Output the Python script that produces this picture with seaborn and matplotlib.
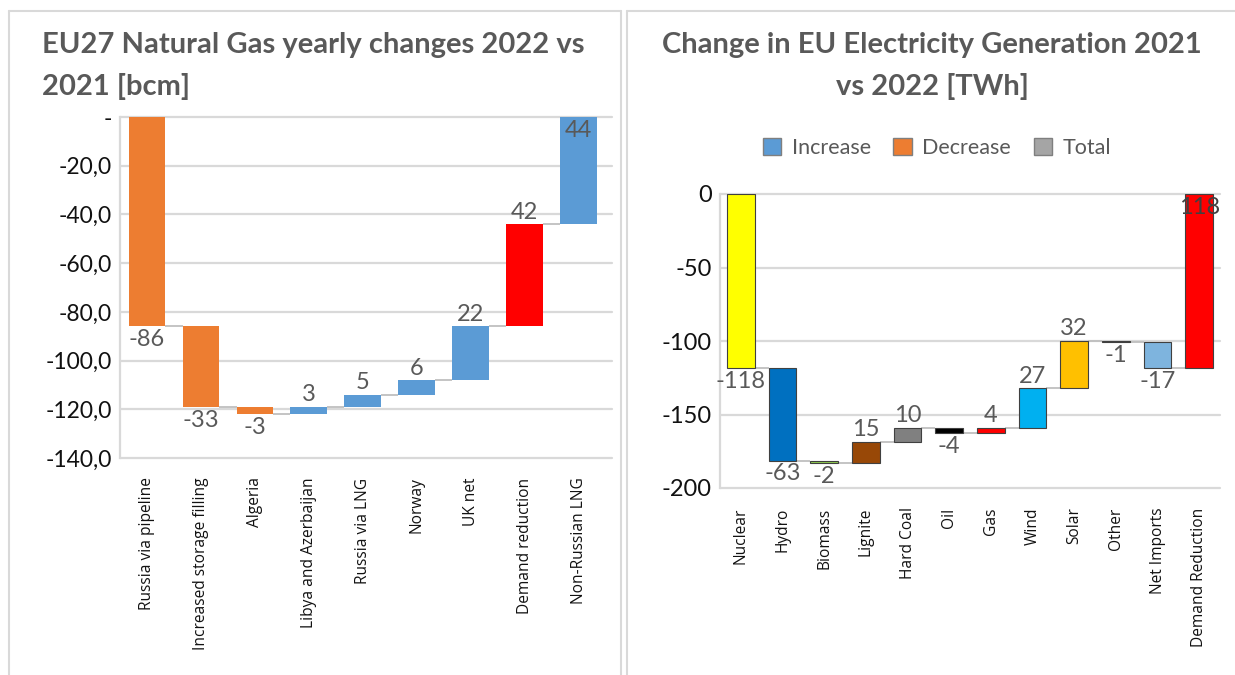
import numpy as np
import pandas as pd
import matplotlib
matplotlib.use("Agg")
import matplotlib.pyplot as plt
from matplotlib.patches import Patch
from matplotlib.lines import Line2D
from matplotlib.ticker import FuncFormatter
import seaborn as sns

# --- data -------------------------------------------------------------------
gas_categories = ["Russia via pipeline", "Increased storage filling", "Algeria",
                  "Libya and Azerbaijan", "Russia via LNG", "Norway", "UK net",
                  "Demand reduction", "Non-Russian LNG"]
gas_changes = [-86, -33, -3, 3, 5, 6, 22, 42, 44]
gas_ticks = [0, -20, -40, -60, -80, -100, -120, -140]

power_categories = ["Nuclear", "Hydro", "Biomass", "Lignite", "Hard Coal", "Oil",
                    "Gas", "Wind", "Solar", "Other", "Net Imports",
                    "Demand Reduction"]
power_changes = [-118.2, -63.1, -1.8, 14.6, 9.6, -3.8, 3.8, 26.6, 32.4, -0.9,
                 -17.4, 118.2]
power_ticks = [0, -50, -100, -150, -200]

legend_labels = ["Increase", "Decrease", "Total"]

gas_title = "EU27 Natural Gas yearly changes 2022 vs\n2021 [bcm]"
power_title = "Change in EU Electricity Generation 2021\nvs 2022 [TWh]"

# --- colours ----------------------------------------------------------------
gas_palette = ["#ED7D31", "#ED7D31", "#ED7D31", "#5B9BD5", "#5B9BD5",
               "#5B9BD5", "#5B9BD5", "#FF0000", "#5B9BD5"]
power_palette = ["#FFFF00", "#0070C0", "#92D050", "#984807", "#808080",
                 "#000000", "#FF0000", "#00B0F0", "#FFC000", "#7F6000",
                 "#7EB4DE", "#FF0000"]
legend_palette = ["#5B9BD5", "#ED7D31", "#A5A5A5"]

GRID = "#D9D9D9"
LABEL = "#595959"
TITLE_FONT = ["Lato", "DejaVu Sans"]
CAT_FONT = ["Open Sans", "DejaVu Sans"]

sns.set_theme(style="white")
plt.rcParams["font.family"] = ["Lato", "DejaVu Sans"]

W, H = 1235, 675
fig = plt.figure(figsize=(W / 100, H / 100), dpi=100)


def px_axes(x0, y0, x1, y1):
    return fig.add_axes([x0 / W, 1 - y1 / H, (x1 - x0) / W, (y1 - y0) / H])


def waterfall(ax, cats, changes, palette, width, edge, lw, ymin, ticks,
              fmt, xmax, label_size, label_color, tick_size):
    changes = np.asarray(changes, dtype=float)
    ends = np.cumsum(changes)
    starts = ends - changes
    lo = np.minimum(starts, ends)
    hi = np.maximum(starts, ends)
    df = pd.DataFrame({"cat": cats, "lo": lo})
    sns.barplot(data=df, x="cat", y="lo", hue="cat", palette=palette,
                width=width, legend=False, errorbar=None, ax=ax,
                edgecolor=edge, linewidth=lw, saturation=1)
    # turn the bars into floating steps
    for p in ax.patches:
        i = int(round(p.get_x() + p.get_width() / 2))
        p.set_y(lo[i])
        p.set_height(hi[i] - lo[i])
        p.set_zorder(3)
    # connectors between consecutive steps
    for i in range(len(cats) - 1):
        ax.plot([i + width / 2, i + 1 - width / 2], [ends[i], ends[i]],
                color="#BFBFBF", lw=1.3, zorder=2, solid_capstyle="butt")
    # value labels
    for i, c in enumerate(changes):
        txt = f"{c:.0f}"
        if c > 0 and hi[i] >= -1e-9:
            ax.annotate(txt, (i, hi[i]), xytext=(0, -2), textcoords="offset points",
                        ha="center", va="top", fontsize=label_size,
                        color=label_color, zorder=5)
        elif c > 0:
            ax.annotate(txt, (i, hi[i]), xytext=(0, 1), textcoords="offset points",
                        ha="center", va="bottom", fontsize=label_size,
                        color=LABEL, zorder=5)
        else:
            ax.annotate(txt, (i, lo[i]), xytext=(0, -2), textcoords="offset points",
                        ha="center", va="top", fontsize=label_size,
                        color=LABEL, zorder=5)
    ax.set_xlim(-0.5, xmax)
    ax.set_ylim(ymin, 0)
    ax.set_yticks(ticks)
    ax.yaxis.set_major_formatter(FuncFormatter(fmt))
    ax.set_xticks(range(len(cats)), labels=cats, fontfamily=CAT_FONT,
                  fontsize=11.2, rotation=90, va="top", color="#111111")
    ax.set_xlabel("")
    ax.set_ylabel("")
    for y in ticks:
        ax.axhline(y, color=GRID, lw=1.6, zorder=1, clip_on=False)
    for s in ["top", "right", "bottom"]:
        ax.spines[s].set_visible(False)
    ax.spines["left"].set_color(GRID)
    ax.spines["left"].set_linewidth(1.6)
    ax.tick_params(axis="y", length=0, labelsize=tick_size, labelcolor="#111111",
                   pad=6)
    ax.tick_params(axis="x", length=0, pad=14)
    ax.set_facecolor("none")


# --- left: natural gas ------------------------------------------------------
ax1 = px_axes(120, 117, 612, 458)
waterfall(ax1, gas_categories, gas_changes, gas_palette, 0.68, "none", 0,
          -140, gas_ticks,
          lambda v, _: "-" if v == 0 else f"{v:.1f}".replace(".", ","),
          8.62, 17, LABEL, 16.5)

# --- right: electricity generation ------------------------------------------
ax2 = px_axes(720, 194, 1220, 488)
waterfall(ax2, power_categories, power_changes, power_palette, 0.67, "#404040",
          0.8, -200, power_ticks, lambda v, _: f"{v:.0f}", 11.5, 17, "#404040",
          17)

handles = [Patch(facecolor=c, edgecolor="#7F7F7F", lw=1.0) for c in legend_palette]
fig.legend(handles, legend_labels, loc="center", bbox_to_anchor=(937 / W, 1 - 148 / H),
           ncol=3, frameon=False, fontsize=15.5, handlelength=0.85,
           handleheight=0.85, handletextpad=0.5, columnspacing=1.05,
           labelcolor=LABEL)

# --- titles -----------------------------------------------------------------
fig.text(42 / W, 1 - 32 / H, gas_title, ha="left", va="top", fontsize=21,
         fontweight="bold", color=LABEL, family=TITLE_FONT, linespacing=1.7)
fig.text(932 / W, 1 - 32 / H, power_title, ha="center", va="top", fontsize=21,
         fontweight="bold", color=LABEL, family=TITLE_FONT, linespacing=1.7,
         multialignment="center")

# --- panel frames -----------------------------------------------------------
frame = dict(color=GRID, lw=1.5, transform=fig.transFigure, figure=fig)
fig.lines.extend([
    Line2D([9 / W, 621 / W], [1 - 11 / H, 1 - 11 / H], **frame),
    Line2D([9 / W, 9 / W], [1 - 11 / H, 0], **frame),
    Line2D([621 / W, 621 / W], [1 - 11 / H, 0], **frame),
    Line2D([627 / W, 1], [1 - 11 / H, 1 - 11 / H], **frame),
    Line2D([627 / W, 627 / W], [1 - 11 / H, 0], **frame),
])

fig.savefig("out.png", dpi=100, facecolor="white")
